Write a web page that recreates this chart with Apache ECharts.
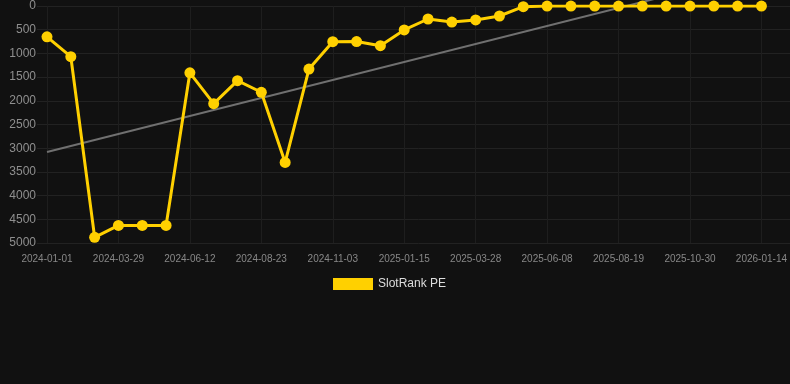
<!DOCTYPE html>
<html>
<head>
<meta charset="utf-8">
<script src="https://cdn.jsdelivr.net/npm/echarts@6/dist/echarts.min.js"></script>
<style>
  html, body { margin: 0; padding: 0; background: #111111; }
  #main { width: 790px; height: 384px; }
</style>
</head>
<body>
<div id="main"></div>
<script>
// dates shown on the x axis (every third one is labelled)
var dates = [
  "2024-01-01", "2024-01-30", "2024-02-28", "2024-03-29", "2024-04-23", "2024-05-18",
  "2024-06-12", "2024-07-06", "2024-07-30", "2024-08-23", "2024-09-16", "2024-10-10",
  "2024-11-03", "2024-11-27", "2024-12-22", "2025-01-15", "2025-02-08", "2025-03-04",
  "2025-03-28", "2025-04-21", "2025-05-15", "2025-06-08", "2025-07-02", "2025-07-26",
  "2025-08-19", "2025-09-12", "2025-10-06", "2025-10-30", "2025-11-24", "2025-12-19",
  "2026-01-14"
];

// SlotRank PE rank per date
var ranks = [
  650, 1070, 4880, 4630, 4630, 4630,
  1410, 2060, 1575, 1820, 3300, 1330,
  753, 750, 837, 506, 274, 338,
  295, 211, 14, 1, 1, 1,
  1, 1, 1, 1, 1, 1,
  1
];

// trend line, start and end values
var trendStart = 3080;
var trendEnd = -718;

var seriesData = [];
for (var i = 0; i < ranks.length; i++) {
  seriesData.push([i, ranks[i]]);
}
var trendData = [[0, trendStart], [dates.length - 1, trendEnd]];

var myChart = echarts.init(document.getElementById("main"));
myChart.setOption({
  backgroundColor: "#111111",
  animation: false,
  grid: {
    left: 47,
    right: 0,
    top: 6,
    bottom: 141,
  },
  legend: {
    data: ["SlotRank PE"],
    left: 333,
    top: 278,
    padding: 0,
    icon: "rect",
    itemWidth: 40,
    itemHeight: 12,
    textStyle: {
      color: "#dddddd",
      fontSize: 12,
      fontFamily: "Liberation Sans, Arial, sans-serif",
    },
  },
  xAxis: {
    type: "value",
    min: 0,
    max: 31.2,
    interval: 3,
    axisLine: { show: false },
    axisTick: {
      show: true,
      length: 7,
      lineStyle: { color: "#1e1e1e" },
    },
    splitLine: {
      show: true,
      lineStyle: { color: "#1e1e1e", width: 1 },
    },
    axisLabel: {
      color: "#888888",
      fontSize: 10,
      margin: 11,
      fontFamily: "Liberation Sans, Arial, sans-serif",
      showMaxLabel: false,
      formatter: function (v) {
        return dates[v] || "";
      },
    },
  },
  yAxis: {
    type: "value",
    inverse: true,
    min: 0,
    max: 5000,
    interval: 500,
    axisLine: { show: false },
    axisTick: {
      show: true,
      length: 10,
      lineStyle: { color: "#222222" },
    },
    splitLine: {
      show: true,
      lineStyle: { color: "#222222", width: 1 },
    },
    axisLabel: {
      color: "#8f8f8f",
      fontSize: 12,
      margin: 11,
      fontFamily: "Liberation Sans, Arial, sans-serif",
      formatter: function (v) {
        return String(v);
      },
    },
  },
  series: [
    {
      name: "Trend",
      type: "line",
      data: trendData,
      clip: false,
      symbol: "none",
      silent: true,
      lineStyle: { color: "#707070", width: 2 },
      z: 1,
    },
    {
      name: "SlotRank PE",
      type: "line",
      data: seriesData,
      symbol: "circle",
      symbolSize: 11,
      itemStyle: { color: "#ffd000" },
      lineStyle: { color: "#ffd000", width: 3 },
      z: 2,
    },
  ],
});
</script>
</body>
</html>
